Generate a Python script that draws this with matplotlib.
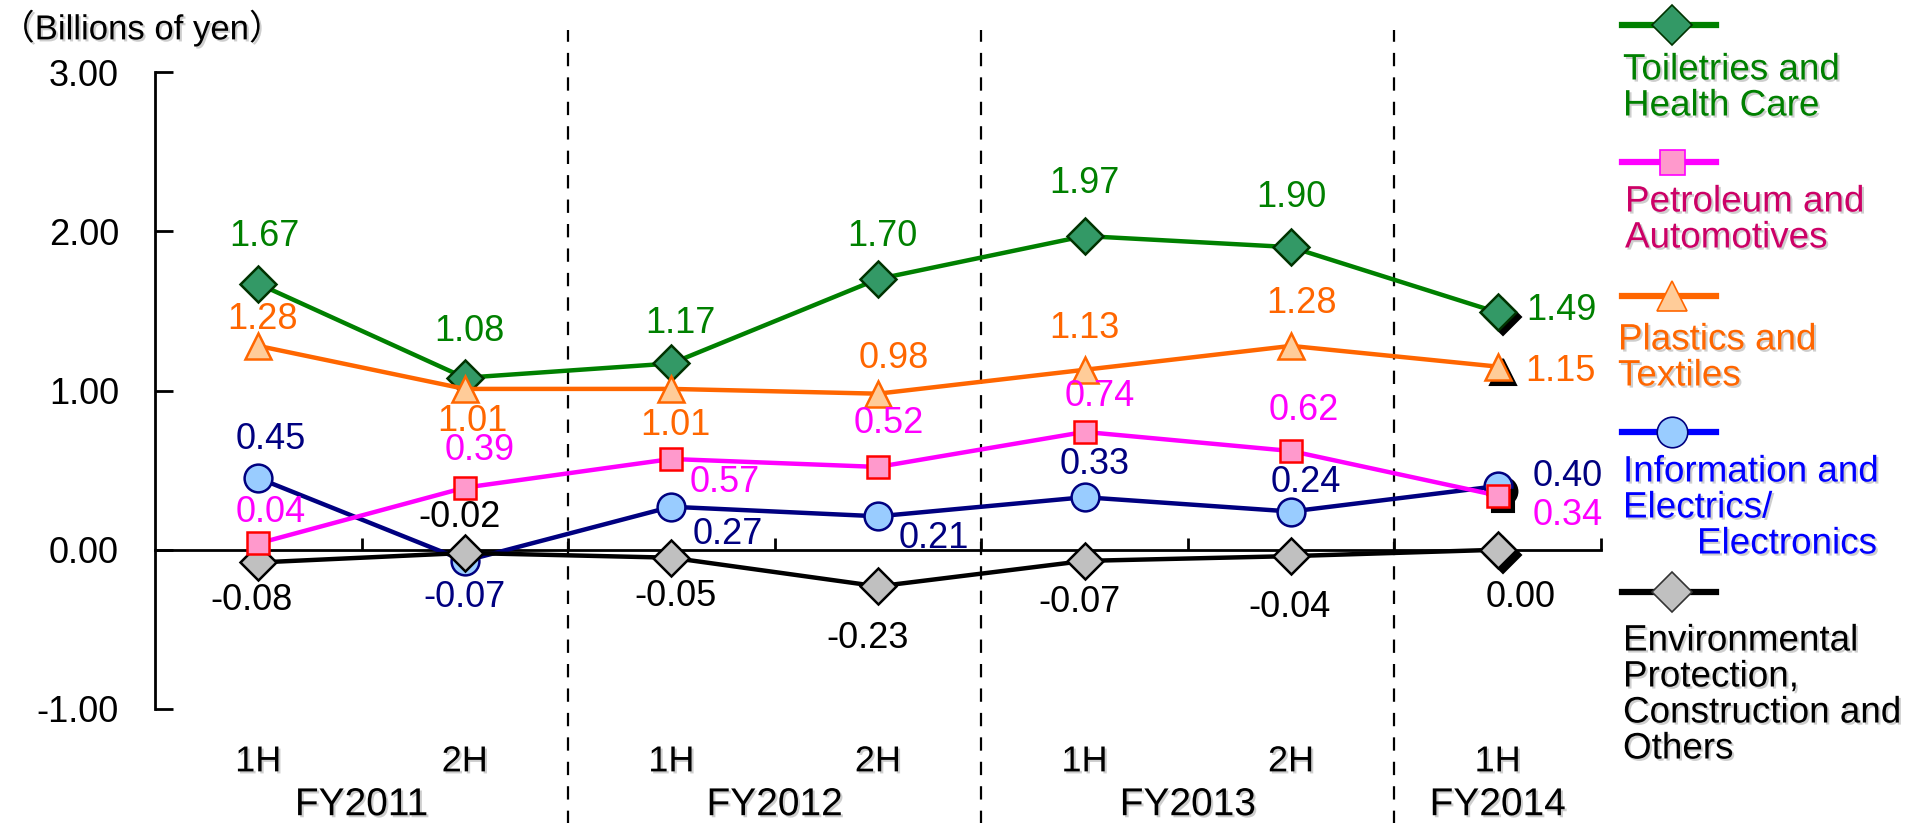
import matplotlib
matplotlib.use("Agg")
import matplotlib.pyplot as plt
import matplotlib.patheffects as pe
from matplotlib.lines import Line2D
from matplotlib.transforms import ScaledTranslation

# ---- data -------------------------------------------------------------
periods = ["1H", "2H", "1H", "2H", "1H", "2H", "1H"]
fiscal_years = ["FY2011", "FY2012", "FY2013", "FY2014"]
fiscal_year_centers = [0.5, 2.5, 4.5, 6.0]
fiscal_year_boundaries = [1.5, 3.5, 5.5]

toiletries = [1.67, 1.08, 1.17, 1.70, 1.97, 1.90, 1.49]
petroleum = [0.04, 0.39, 0.57, 0.52, 0.74, 0.62, 0.34]
plastics = [1.28, 1.01, 1.01, 0.98, 1.13, 1.28, 1.15]
information = [0.45, -0.07, 0.27, 0.21, 0.33, 0.24, 0.40]
environmental = [-0.08, -0.02, -0.05, -0.23, -0.07, -0.04, 0.00]

y_ticks = [-1.0, 0.0, 1.0, 2.0, 3.0]

legend_texts = [
    ["Toiletries and", "Health Care"],
    ["Petroleum and", "Automotives"],
    ["Plastics and", "Textiles"],
    ["Information and", "Electrics/", "Electronics"],
    ["Environmental", "Protection,", "Construction and", "Others"],
]

# ---- styling ------------------------------------------------------------
W, H, DPI = 1907, 823, 100
FONT = "Liberation Sans"
plt.rcParams["font.family"] = [FONT, "DejaVu Sans"]

# per series: values, line colour, marker, face, edge, size, label colour,
# label offsets in pixels (dx, dy, ha)
series = [
    dict(y=toiletries, line="#008000", marker="D", face="#339966", edge="#003300",
         ms=18, text="#008000", z=3,
         offs=[(6, 47, "center"), (5, 46, "center"), (9, 40, "center"), (4, 43, "center"),
               (0, 53, "center"), (0, 50, "center"), (29, 2, "left")],
         leg_line="#008000", leg_edge="#003300", leg_text="#008000"),
    dict(y=information, line="#000080", marker="o", face="#99CCFF", edge="#000080",
         ms=20, text="#000080", z=4,
         offs=[(12, 39, "center"), (0, -37, "center"), (56, -28, "center"), (56, -22, "center"),
               (10, 33, "center"), (15, 29, "center"), (35, 10, "left")],
         leg_line="#0000FF", leg_edge="#000080", leg_text="#0000FF"),
    dict(y=environmental, line="#000000", marker="D", face="#C0C0C0", edge="#000000",
         ms=18, text="#000000", z=5,
         offs=[(-7, -38, "center"), (-5, 35, "center"), (4, -39, "center"), (-10, -52, "center"),
               (-5, -42, "center"), (-2, -51, "center"), (23, -48, "center")],
         leg_line="#000000", leg_edge="#333333", leg_text="#000000"),
    dict(y=plastics, line="#FF6600", marker="^", face="#FFCC99", edge="#FF6600",
         ms=19, text="#FF6600", z=6,
         offs=[(4, 26, "center"), (8, -33, "center"), (4, -37, "center"), (16, 35, "center"),
               (0, 41, "center"), (10, 42, "center"), (28, -5, "left")],
         leg_line="#FF6600", leg_edge="#FF6600", leg_text="#FF6600"),
    dict(y=petroleum, line="#FF00FF", marker="s", face="#FF99CC", edge="#FF0000",
         ms=16, text="#FF00FF", z=7,
         offs=[(12, 31, "center"), (15, 37, "center"), (53, -24, "center"), (11, 43, "center"),
               (15, 35, "center"), (13, 41, "center"), (35, -20, "left")],
         leg_line="#FF00FF", leg_edge="#FF00FF", leg_text="#CC0066"),
]
# legend order (top to bottom) refers to indices in `series`
legend_order = [0, 4, 3, 1, 2]

shadow = [pe.SimplePatchShadow(offset=(1.5, -1.5), shadow_rgbFace="0.45", alpha=0.35),
          pe.Normal()]

fig = plt.figure(figsize=(W / DPI, H / DPI), dpi=DPI)
left, right, top, bottom = 155, 1601, 72, 709
ax = fig.add_axes([left / W, 1 - bottom / H, (right - left) / W, (bottom - top) / H])

x = list(range(len(periods)))
ax.set_xlim(-0.5, len(periods) - 0.5)
ax.set_ylim(-1.0, 3.0)

shadow_shift = ScaledTranslation(5 / DPI, -5 / DPI, fig.dpi_scale_trans)

for s in series:
    ax.plot(x, s["y"], color=s["line"], lw=3.2, zorder=s["z"], solid_joinstyle="round",
            clip_on=False)
    # drop shadow behind the latest point
    ax.plot([x[-1]], [s["y"][-1]], linestyle="none", marker=s["marker"], ms=s["ms"],
            mfc="black", mec="black", mew=1.5, zorder=s["z"],
            transform=ax.transData + shadow_shift, clip_on=False)
    ax.plot(x, s["y"], linestyle="none", marker=s["marker"], ms=s["ms"],
            mfc=s["face"], mec=s["edge"], mew=1.8, zorder=s["z"] + 0.5, clip_on=False)
    for xi, yi, (dx, dy, ha) in zip(x, s["y"], s["offs"]):
        ax.annotate(f"{yi:.2f}", (xi, yi), xytext=(dx, dy), textcoords="offset pixels",
                    ha=ha, va="center", fontsize=26, color=s["text"], zorder=20,
                    family=FONT)

# axes frame: left spine and the zero line only
for side in ("top", "right"):
    ax.spines[side].set_visible(False)
ax.spines["left"].set_linewidth(2)
ax.spines["bottom"].set_position(("data", 0))
ax.spines["bottom"].set_linewidth(2)

ax.set_yticks(y_ticks)
ax.set_yticklabels([f"{v:.2f}" for v in y_ticks], fontsize=26, family=FONT)
ax.tick_params(axis="y", direction="in", length=13, width=2, pad=26)

ax.set_xticks([i + 0.5 for i in x])
ax.set_xticklabels([])
ax.tick_params(axis="x", direction="in", length=9, width=2)

xaxis_tr = ax.get_xaxis_transform()
for xi, lab in zip(x, periods):
    ax.text(xi, -0.083, lab, transform=xaxis_tr, ha="center", va="center",
            fontsize=26, family=FONT, path_effects=shadow)
for xc, lab in zip(fiscal_year_centers, fiscal_years):
    ax.text(xc, -0.151, lab, transform=xaxis_tr, ha="center", va="center",
            fontsize=28, family=FONT, path_effects=shadow)

for xb in fiscal_year_boundaries:
    ax.axvline(xb, ymin=-0.18, ymax=1.066, color="black", lw=1.6,
               linestyle=(0, (6, 5)), clip_on=False, zorder=1)

# unit caption
fig.text(0.0, 1 - 28 / H, "（Billions of yen）", ha="left", va="center", fontsize=25,
         family=[FONT, "Noto Sans CJK JP"], path_effects=shadow)

# legend: sample line with marker, caption underneath
handle_y = [25, 162, 296, 432, 592]
text_y0 = [70, 202, 340, 472, 641]
text_x = [1623, 1625, 1618, 1623, 1623]
line_step = 36
for k, idx in enumerate(legend_order):
    s = series[idx]
    fy = 1 - handle_y[k] / H
    fig.add_artist(Line2D([1622 / W, 1716 / W], [fy, fy], color=s["leg_line"], lw=4.5,
                          transform=fig.transFigure))
    fig.add_artist(Line2D([1672 / W], [fy], linestyle="none", marker=s["marker"],
                          ms=s["ms"] + 2, mfc=s["face"], mec=s["leg_edge"], mew=1.2,
                          transform=fig.transFigure))
    for j, line in enumerate(legend_texts[k]):
        tx = text_x[k]
        if line == "Electronics":
            tx = 1697
        fig.text(tx / W, 1 - (text_y0[k] + j * line_step) / H, line, ha="left",
                 va="center", fontsize=26.5, color=s["leg_text"], family=FONT,
                 path_effects=shadow)

fig.savefig("out.png", dpi=DPI)
